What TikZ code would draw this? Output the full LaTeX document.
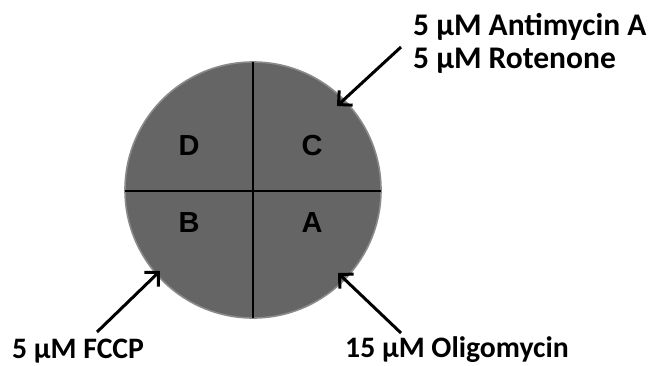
\documentclass[tikz,border=0pt]{standalone}
\usepackage{fontspec}
\setmainfont{Carlito}
\newfontfamily\arialfont{Liberation Sans}
\usetikzlibrary{arrows.meta}
\definecolor{wellfill}{HTML}{656565}
\definecolor{welledge}{HTML}{8A8A8A}
\begin{document}
\begin{tikzpicture}[x=1pt,y=1pt,
  well/.style={draw=welledge,line width=1.6pt,fill=wellfill},
  divider/.style={draw=black,line width=1.3pt},
  quad/.style={font=\arialfont\bfseries\fontsize{29}{29}\selectfont,text=black,inner sep=0pt},
  lbl/.style={font=\bfseries\fontsize{29.7}{33}\selectfont,anchor=base west,inner sep=0pt},
  lbltop/.style={font=\bfseries\fontsize{31.5}{33}\selectfont,anchor=base west,inner sep=0pt},
  pointer/.style={line width=3pt,-{Straight Barb[length=10pt,width=20pt,line width=3pt]}}]
\useasboundingbox (0,0) rectangle (655,-365);
\node[well,circle,minimum size=256pt,inner sep=0pt] (w) at (253,-190) {};
\coordinate (top) at (253,-62);
\coordinate (bot) at (253,-318);
\coordinate (lft) at (125,-191);
\coordinate (rgt) at (381,-191);
\draw[divider] (top) -- (bot);
\draw[divider] (lft) -- (rgt);
\node[quad] (D) at (189,-146) {D};
\node[quad] (C) at (312,-146) {C};
\node[quad] (B) at (189,-223) {B};
\node[quad] (A) at (312,-223) {A};
\node[lbltop] (t1) at (413,-35) {5 µM Antimycin A};
\node[lbltop] (t2) at (413,-68) {5 µM Rotenone};
\node[lbl] (fccp) at (12,-358) {5 µM FCCP};
\node[lbl] (olig) at (345,-357) {15 µM Oligomycin};
\coordinate (cTail) at (401,-47);
\coordinate (cHead) at (337,-106);
\coordinate (bTail) at (97,-332);
\coordinate (bHead) at (160,-271);
\coordinate (aTail) at (401,-333);
\coordinate (aHead) at (338,-273);
\draw[pointer] (cTail) -- (cHead);
\draw[pointer] (bTail) -- (bHead);
\draw[pointer] (aTail) -- (aHead);
\end{tikzpicture}
\end{document}
